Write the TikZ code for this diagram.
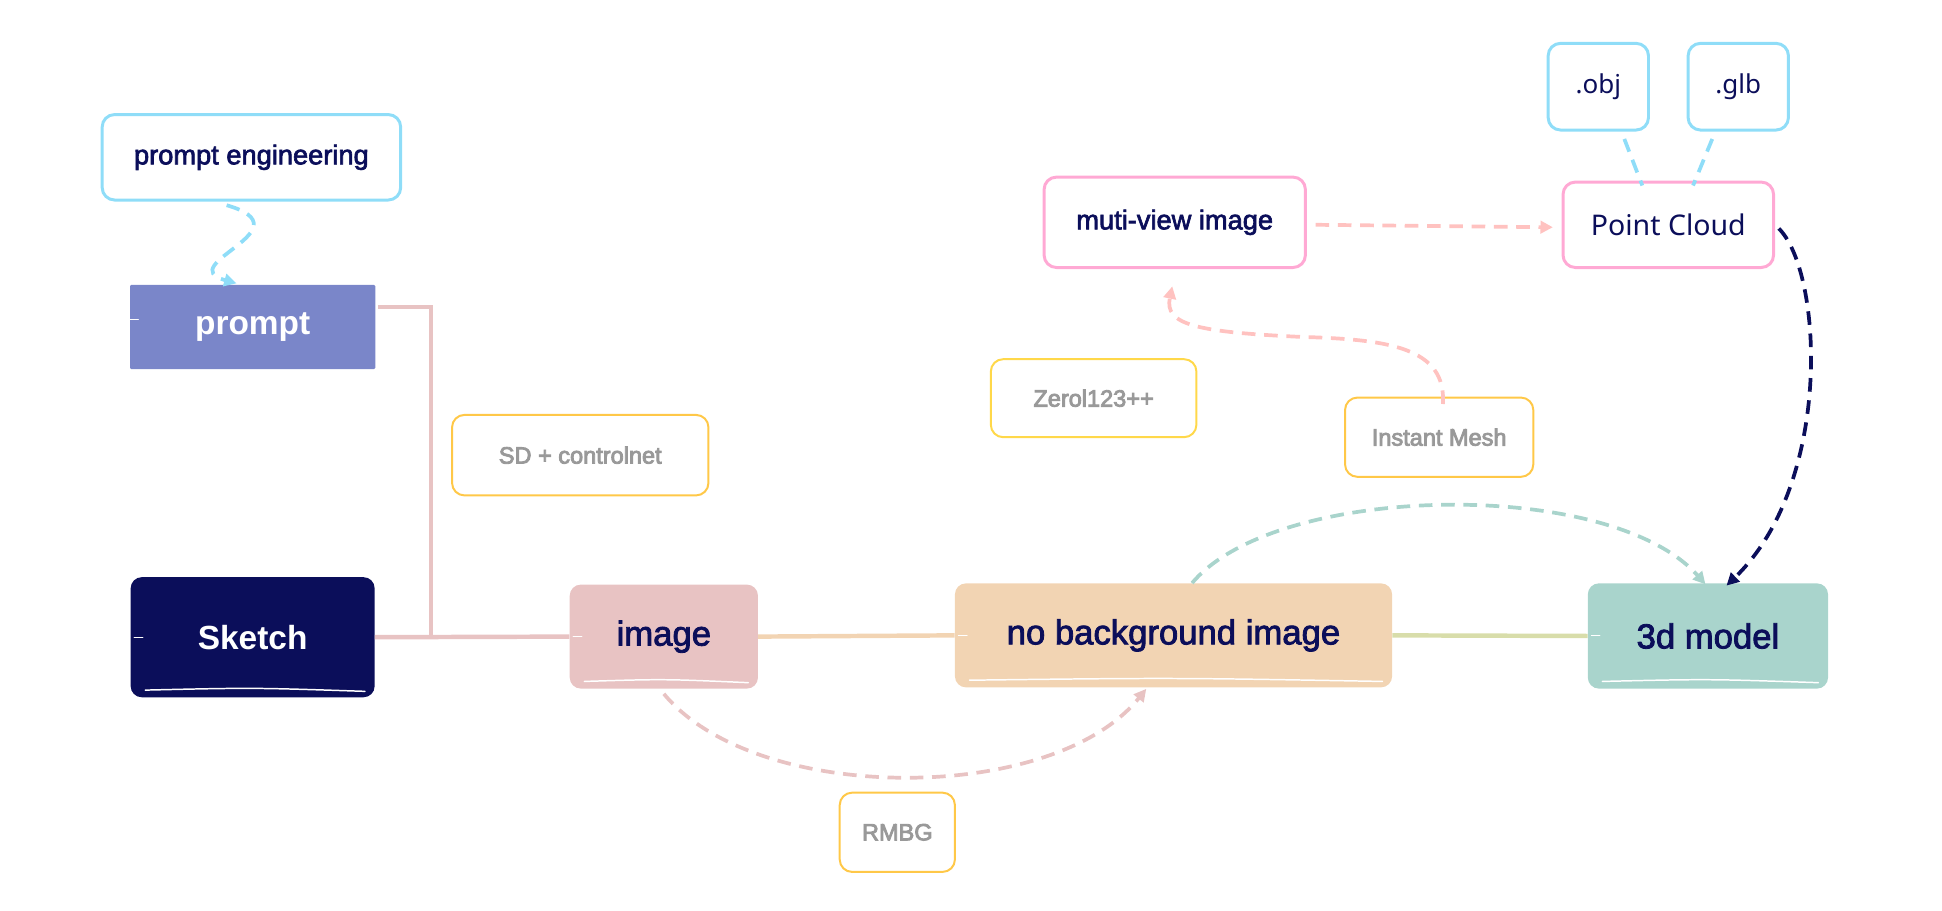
\documentclass[tikz,border=0pt]{standalone}
\usepackage{fontspec}
\setmainfont{Liberation Sans}
\newfontfamily\medf{Liberation Sans}[FakeBold=2.4]
\newfontfamily\grayf{Liberation Sans}[FakeBold=3.6]
\newfontfamily\segf{Noto Sans}
\usetikzlibrary{arrows.meta,calc}
\definecolor{navy}{HTML}{0B0E5A}
\definecolor{promptc}{HTML}{7A86C9}
\definecolor{imagec}{HTML}{E8C3C3}
\definecolor{nobgc}{HTML}{F2D4B3}
\definecolor{modelc}{HTML}{A9D4CC}
\definecolor{lblue}{HTML}{8FDDF8}
\definecolor{pinkb}{HTML}{FFA9D4}
\definecolor{ylw}{HTML}{FFC848}
\definecolor{ylw2}{HTML}{FFD84A}
\definecolor{grayt}{HTML}{999999}
\definecolor{pinkd}{HTML}{FFC2C0}
\definecolor{olive}{HTML}{D8DDAA}
\tikzset{
  fillbox/.style={rounded corners=9pt, inner sep=0pt, text=navy,
    font=\medf\fontsize{28}{30}\selectfont},
  whitebox/.style={rounded corners=9pt, inner sep=0pt, text=white,
    font=\bfseries\fontsize{27}{30}\selectfont},
  bluebox/.style={draw=lblue, line width=2.4pt, fill=white, rounded corners=10pt,
    inner sep=0pt, text=navy},
  pinkbox/.style={draw=pinkb, line width=2.4pt, fill=white, rounded corners=10pt,
    inner sep=0pt, text=navy},
  toolbox/.style={draw=ylw, line width=1.6pt, fill=white, rounded corners=10pt,
    inner sep=0pt, text=grayt, font=\grayf\fontsize{19}{22}\selectfont},
  solidconn/.style={line width=3.6pt},
  dashconn/.style={line width=3pt, dash pattern=on 11pt off 7pt},
  tip/.style={-{Triangle[length=10pt,width=10pt]}},
  streak/.style={white, line width=1.2pt, line cap=round},
}
\begin{document}
\begin{tikzpicture}[x=1pt,y=-1pt]
\useasboundingbox (0,0) rectangle (1568,735);

% connector from prompt, drawn under the nodes
\coordinate (j) at (348,514);
\coordinate (ps) at (305,248);
\draw[solidconn, imagec] (ps) -- (348,248) -- (j);

% filled nodes
\node[fill=promptc, whitebox, rounded corners=1pt, minimum width=198pt, minimum height=68pt] (prompt) at (204,264) {prompt};
\node[fill=navy, whitebox, minimum width=197pt, minimum height=97pt] (sketch) at (204,514.5) {Sketch};
\node[fill=imagec, fillbox, minimum width=152pt, minimum height=84pt] (image) at (536,514) {image};
\node[fill=nobgc, fillbox, minimum width=353pt, minimum height=84pt] (nobg) at (947.5,513) {no background image};
\node[fill=modelc, fillbox, minimum width=194pt, minimum height=85pt] (model) at (1379,513.5) {3d model};

% white streaks of the hand-drawn fill
\foreach \n in {sketch,image,nobg,model}{
  \draw[streak] ($(\n.south west)+(12,-6)$) .. controls ($(\n.south)+(0,-8)$) .. ($(\n.south east)+(-8,-5)$);
  \draw[streak, line width=0.8pt] ($(\n.west)+(3,0)$) -- ++(7,0);
}
\draw[streak, line width=0.8pt] ($(prompt.west)+(0,-6)$) -- ++(7,0);

% outlined nodes
\node[bluebox, font=\medf\fontsize{22}{26}\selectfont, minimum width=241pt, minimum height=69pt] (pe) at (203,127) {prompt engineering};
\node[pinkbox, font=\medf\fontsize{22}{26}\selectfont, minimum width=211pt, minimum height=73pt] (mv) at (948.5,179.5) {muti-view image};
\node[pinkbox, font=\segf\fontsize{23}{26}\selectfont, minimum width=170pt, minimum height=69pt] (pc) at (1347,181.5) {Point Cloud};
\node[bluebox, font=\segf\fontsize{21}{24}\selectfont, minimum width=81pt, minimum height=70pt] (obj) at (1290.5,70) {.obj};
\node[bluebox, font=\segf\fontsize{21}{24}\selectfont, minimum width=81pt, minimum height=70pt] (glb) at (1403.5,70) {.glb};

% tool labels
\node[toolbox, minimum width=207pt, minimum height=65pt] (sd) at (468.5,367.5) {SD + controlnet};
\node[toolbox, draw=ylw2, minimum width=166pt, minimum height=63pt] (zero) at (883,321.5) {Zerol123++};
\node[toolbox, minimum width=152pt, minimum height=64pt] (im) at (1162,353) {Instant Mesh};
\node[toolbox, minimum width=93pt, minimum height=64pt] (rmbg) at (724.5,672) {RMBG};

% solid connectors
\draw[solidconn, imagec] (sketch.east) -- (image.west);
\draw[solidconn, nobgc] (image.east) -- (nobg.west);
\draw[solidconn, olive] (nobg.east) -- (model.west);

% dashed connectors
\draw[dashconn, lblue, tip] ([xshift=-20pt,yshift=-3pt]pe.south) .. controls (250,185) and (138,214) .. ([xshift=-13pt,yshift=1pt]prompt.north);
\draw[dashconn, imagec, tip] ([yshift=-4pt]image.south) .. controls (610,650) and (850,650) .. ([xshift=-22pt,yshift=-1pt]nobg.south);
\draw[dashconn, modelc, tip] ([xshift=15pt]nobg.north) .. controls (1030,390) and (1300,385) .. ([xshift=-2pt,yshift=-1pt]model.north);
\draw[dashconn, navy, tip] ([xshift=3pt,yshift=-3pt]pc.east) .. controls (1472,220) and (1480,390) .. ([xshift=15pt,yshift=-2pt]model.north);
\draw[dashconn, pinkd, tip] ([xshift=3pt,yshift=-6pt]im.north) .. controls (1168,280) and (1120,274) .. (1050,272) .. controls (965,268) and (940,262) .. ([xshift=-2pt,yshift=-14pt]mv.south);
\draw[dashconn, pinkd, tip] ([xshift=7pt,yshift=-2pt]mv.east) -- ([xshift=-7pt,yshift=-2pt]pc.west);
\draw[dashconn, lblue] ([xshift=21pt,yshift=-6pt]obj.south) -- ([xshift=-21pt,yshift=-4pt]pc.north);
\draw[dashconn, lblue] ([xshift=-21pt,yshift=-6pt]glb.south) -- ([xshift=20pt,yshift=-4pt]pc.north);
\end{tikzpicture}
\end{document}
